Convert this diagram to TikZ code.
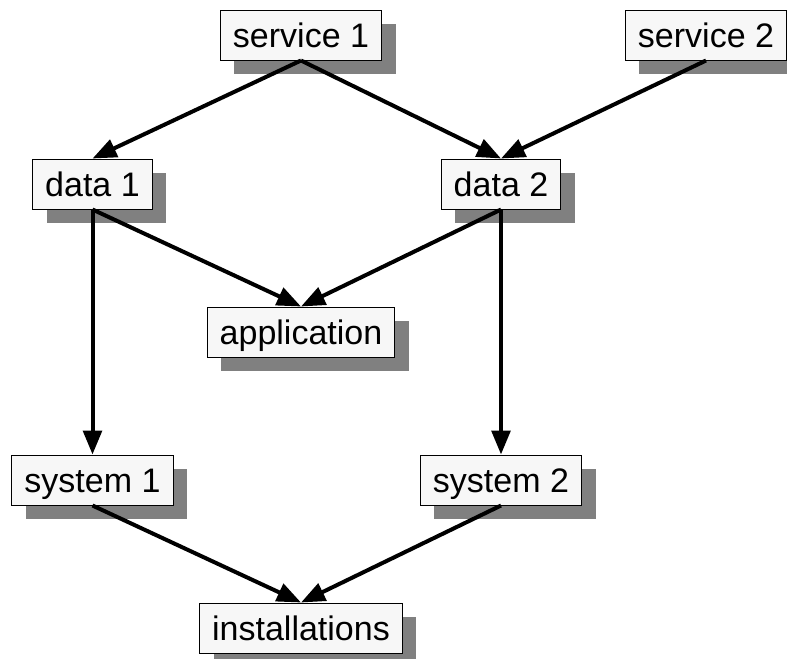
\documentclass[tikz,border=0pt]{standalone}
\usepackage{fontspec}
\setmainfont{Liberation Sans}
\usetikzlibrary{arrows.meta,shadows}

\tikzset{
	box/.style={draw,line width=0.75pt,fill=black!3,inner xsep=9.4pt,inner ysep=9.75pt,
		text height=18pt,text depth=0pt,font=\fontsize{25.5}{30}\selectfont,
		general shadow={fill=black!50,shadow xshift=10.5pt,shadow yshift=-10.5pt}},
	link/.style={line width=3pt,-{Triangle[length=18pt,width=14pt]}}
}

\begin{document}
\begin{tikzpicture}[x=0.75pt,y=-0.75pt]
	\useasboundingbox (0,0) rectangle (787,658);
	\node [box] (srv1) at (301,35) {service 1};
	\node [box] (srv2) at (706,35) {service 2};
	\node [box] (dat1) at (92.5,184) {data 1};
	\node [box] (dat2) at (501,184) {data 2};
	\node [box] (app) at (301,332) {application};
	\node [box] (sys1) at (92.5,480) {system 1};
	\node [box] (sys2) at (501,480) {system 2};
	\node [box] (inst) at (301,628) {installations};
	% services to data
	\draw [link] (srv1.south) -- (dat1.north);
	\draw [link] (srv1.south) -- (dat2.north);
	\draw [link] (srv2.south) -- (dat2.north);
	% data to application and systems
	\draw [link] (dat1.south) -- (app.north);
	\draw [link] (dat2.south) -- (app.north);
	\draw [link] (dat1.south) -- (sys1.north);
	\draw [link] (dat2.south) -- (sys2.north);
	% systems to installations
	\draw [link] (sys1.south) -- (inst.north);
	\draw [link] (sys2.south) -- (inst.north);
\end{tikzpicture}
\end{document}
